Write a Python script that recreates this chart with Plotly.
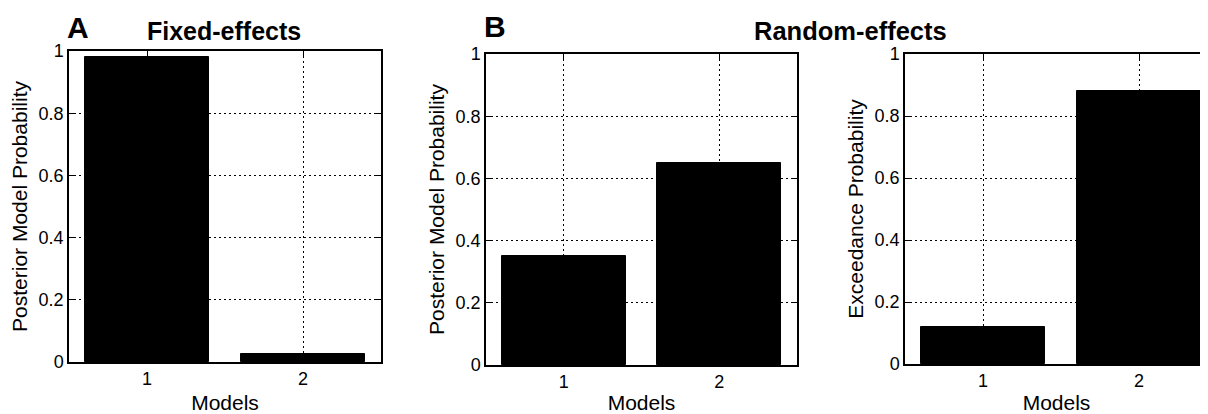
import plotly.graph_objects as go

# Page has an 8px body margin; the figure is sized so that page == window.
OFF = 8
W, H = 1208 - OFF, 414 - OFF

# ---- data ----
model_x = [1, 2]
model_labels = ["1", "2"]
fixed_post = [0.98, 0.025]        # A: fixed-effects posterior model probability
random_post = [0.35, 0.65]        # B: random-effects posterior model probability
random_exceed = [0.12, 0.88]      # B: random-effects exceedance probability
y_ticks = [0, 0.2, 0.4, 0.6, 0.8, 1]
y_tick_labels = ["0", "0.2", "0.4", "0.6", "0.8", "1"]

FONT = "Liberation Sans, Arial, Helvetica, sans-serif"


def fx(px):
    return (px - OFF) / W


def fy(py):
    return 1 - (py - OFF) / H


def px_x(a, b):
    return [fx(a), min(1.0, fx(b))]


def px_y(top, bottom):
    return [fy(bottom), fy(top)]


fig = go.Figure()

panels = [
    dict(xa="x", ya="y", vals=fixed_post, dx=px_x(69, 381), dy=px_y(51, 362),
         rng=[0.5, 2.5], ytitle="Posterior Model Probability", mirror_y="ticks"),
    dict(xa="x2", ya="y2", vals=random_post, dx=px_x(486, 797), dy=px_y(54, 365),
         rng=[0.5, 2.5], ytitle="Posterior Model Probability", mirror_y="ticks"),
    dict(xa="x3", ya="y3", vals=random_exceed, dx=px_x(905, 1208), dy=px_y(54, 364),
         rng=[0.5, 0.5 + (1208 - 905) / 156.0], ytitle="Exceedance Probability", mirror_y=False),
]

layout_axes = {}
for i, p in enumerate(panels):
    fig.add_trace(go.Bar(
        x=model_x, y=p["vals"], xaxis=p["xa"], yaxis=p["ya"],
        width=0.8, marker=dict(color="black", line=dict(color="black", width=1)),
        showlegend=False,
    ))
    sfx = "" if i == 0 else str(i + 1)
    layout_axes["xaxis" + sfx] = dict(
        domain=p["dx"], anchor=p["ya"], range=p["rng"], automargin=False,
        tickmode="array", tickvals=model_x, ticktext=model_labels,
        ticks="inside", ticklen=5, tickwidth=1, tickcolor="black",
        showline=True, linecolor="black", linewidth=1.5, mirror="ticks",
        showgrid=True, gridcolor="black", gridwidth=1, griddash="1.5px,3.5px",
        zeroline=False, fixedrange=True,
        tickfont=dict(family=FONT, size=18, color="black"),
        title=dict(text="Models", font=dict(family=FONT, size=21, color="black"), standoff=7),
    )
    layout_axes["yaxis" + sfx] = dict(
        domain=p["dy"], anchor=p["xa"], range=[0, 1], automargin=False,
        tickmode="array", tickvals=y_ticks, ticktext=y_tick_labels,
        ticks="inside", ticklen=5, tickwidth=1, tickcolor="black",
        showline=True, linecolor="black", linewidth=1.5, mirror=p["mirror_y"],
        showgrid=True, gridcolor="black", gridwidth=1, griddash="1.5px,3.5px",
        zeroline=False, fixedrange=True,
        tickfont=dict(family=FONT, size=18, color="black"),
        title=dict(text=p["ytitle"], font=dict(family=FONT, size=21, color="black"), standoff=5),
    )

annotations = [
    dict(text="<b>Fixed-effects</b>", x=fx(224), y=fy(31), xref="paper", yref="paper",
         showarrow=False, font=dict(family=FONT, size=25, color="black"), xanchor="center", yanchor="middle"),
    dict(text="<b>Random-effects</b>", x=fx(850), y=fy(31), xref="paper", yref="paper",
         showarrow=False, font=dict(family=FONT, size=25.5, color="black"), xanchor="center", yanchor="middle"),
    dict(text="<b>A</b>", x=fx(78), y=fy(27), xref="paper", yref="paper",
         showarrow=False, font=dict(family=FONT, size=30, color="black"), xanchor="center", yanchor="middle"),
    dict(text="<b>B</b>", x=fx(495), y=fy(26), xref="paper", yref="paper",
         showarrow=False, font=dict(family=FONT, size=30, color="black"), xanchor="center", yanchor="middle"),
]

fig.update_layout(
    width=W, height=H,
    margin=dict(l=0, r=0, t=0, b=0, autoexpand=False),
    paper_bgcolor="white", plot_bgcolor="white",
    bargap=0, annotations=annotations,
    **layout_axes,
)

fig.write_html("out.html")
